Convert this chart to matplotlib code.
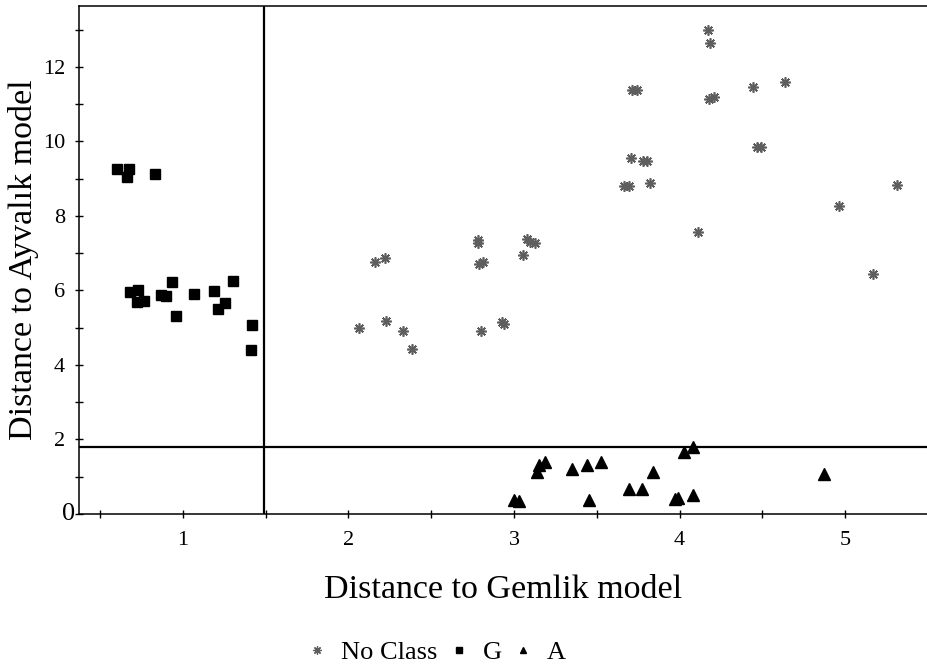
import matplotlib
matplotlib.use('Agg')
import matplotlib.pyplot as plt
from matplotlib.lines import Line2D

plt.rcParams['font.family'] = ['Liberation Serif', 'DejaVu Serif']

# G class (squares)
g_x = [0.604, 0.676, 0.664, 0.833, 0.684, 0.727, 0.724, 0.763, 0.871, 0.899,
       0.935, 0.958, 1.066, 1.187, 1.213, 1.253, 1.303, 1.418, 1.412]
g_y = [9.25, 9.25, 9.04, 9.12, 5.96, 6.01, 5.68, 5.72, 5.88, 5.85,
       6.23, 5.32, 5.91, 5.99, 5.50, 5.67, 6.26, 5.08, 4.40]

# A class (triangles)
a_x = [3.148, 3.188, 3.140, 3.351, 3.003, 3.033, 3.439, 3.526, 3.454, 4.029,
       4.083, 3.837, 3.693, 3.771, 3.970, 3.988, 4.083, 4.869]
a_y = [1.31, 1.39, 1.13, 1.22, 0.375, 0.36, 1.32, 1.39, 0.375, 1.67,
       1.79, 1.13, 0.66, 0.66, 0.39, 0.42, 0.50, 1.07]

# no class (stars)
n_x = [2.163, 2.219, 2.062, 2.229, 2.332, 2.382, 2.780, 2.785, 2.790, 2.810,
       3.077, 3.098, 3.124, 3.055, 2.800, 2.930, 2.940, 4.173, 4.181, 3.711,
       3.741, 4.175, 4.210, 4.443, 4.636, 4.470, 4.490, 3.705, 3.777, 3.801,
       3.667, 3.693, 3.823, 5.315, 4.960, 4.113, 5.165]
n_y = [6.75, 6.87, 4.99, 5.18, 4.90, 4.43, 7.35, 7.27, 6.72, 6.76,
       7.37, 7.30, 7.27, 6.94, 4.92, 5.16, 5.11, 12.98, 12.64, 11.37,
       11.39, 11.14, 11.18, 11.47, 11.59, 9.86, 9.86, 9.55, 9.48, 9.48,
       8.80, 8.80, 8.87, 8.84, 8.26, 7.56, 6.43]

cut_x = 1.49
cut_y = 1.80

fig = plt.figure(figsize=(9.28, 6.71), dpi=100)
ax = fig.add_axes([0.0851, 0.234, 0.9149, 0.757])

star = (8, 2, 0)
ax.plot(n_x, n_y, linestyle='none', marker=star, markersize=7.5, mew=1.2,
        color='#5e5e5e')
ax.plot(g_x, g_y, linestyle='none', marker='s', markersize=6.5, color='black')
ax.plot(a_x, a_y, linestyle='none', marker='^', markersize=8, color='black')

ax.axvline(cut_x, color='black', lw=1.6)
ax.axhline(cut_y, color='black', lw=1.6)

ax.set_xlim(0.373, 5.5)
ax.set_ylim(0, 13.63)
ax.spines['right'].set_visible(False)
for s in ['left', 'bottom', 'top']:
    ax.spines[s].set_linewidth(1.1)

ax.set_xticks([0.5, 1, 1.5, 2, 2.5, 3, 3.5, 4, 4.5, 5])
ax.set_xticklabels(['', '1', '', '2', '', '3', '', '4', '', '5'])
ax.set_yticks(range(0, 14))
ylabels = [str(v) if v % 2 == 0 and v > 0 else '' for v in range(0, 14)]
ax.set_yticklabels(ylabels)
ax.tick_params(direction='inout', length=6, width=1, labelsize=16)
ax.tick_params(axis='x', pad=9)
ax.tick_params(axis='y', pad=7)
ax.text(-0.004, 0, '0', transform=ax.transAxes, ha='right', va='center',
        fontsize=19)

ax.set_xlabel('Distance to Gemlik model', fontsize=24.5, labelpad=18)
ax.set_ylabel('Distance to Ayvalık model', fontsize=24.5, labelpad=3)

handles = [
    Line2D([], [], linestyle='none', marker=star, markersize=6, mew=0.9, color='#5e5e5e'),
    Line2D([], [], linestyle='none', marker='s', markersize=5, color='black'),
    Line2D([], [], linestyle='none', marker='^', markersize=5, color='black'),
]
fig.legend(handles, ['No Class', 'G', 'A'], loc='center', ncol=3,
           bbox_to_anchor=(0.47, 0.028), frameon=False, fontsize=19,
           handlelength=0.8, handletextpad=0.5, columnspacing=0.4)

fig.savefig('out.png', dpi=100)
